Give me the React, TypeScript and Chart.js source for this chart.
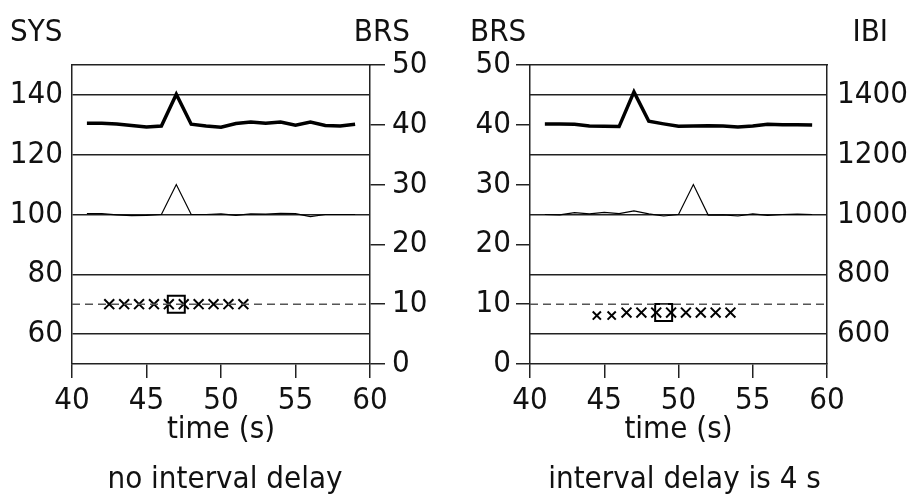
import React, { useEffect, useRef } from "react";
import { Chart, registerables } from "chart.js";

Chart.register(...registerables);

// ---------- data ----------
const times = [41, 42, 43, 44, 45, 46, 47, 48, 49, 50, 51, 52, 53, 54, 55, 56, 57, 58, 59];

// left panel (no interval delay), values on SYS axis
const leftThick = [130.5, 130.5, 130.3, 129.8, 129.3, 129.6, 140.2, 130.2, 129.6, 129.2, 130.4, 130.9, 130.5, 130.9, 129.9, 130.9, 129.8, 129.6, 130.2];
const leftThin = [100.3, 100.3, 99.9, 99.6, 99.7, 100.0, 110.0, 100.0, 100.0, 100.2, 99.7, 100.2, 100.1, 100.4, 100.3, 99.3, 100.0, 100.0, 100.0];
const leftCrossX = [42.5, 43.5, 44.5, 45.5, 46.5, 47.5, 48.5, 49.5, 50.5, 51.5];
const leftCrossY = [10, 10, 10, 10, 10, 10, 10, 10, 10, 10];
const leftSquare = { x: 47, y: 10 };

// right panel (interval delay is 4 s), values on IBI axis
const rightThick = [1303, 1303, 1302, 1296, 1295, 1294, 1410, 1312, 1303, 1295, 1296, 1297, 1296, 1293, 1296, 1302, 1300, 1300, 1299];
const rightThin = [1000, 999, 1006, 1002, 1007, 1003, 1012, 1002, 995, 1000, 1100, 998, 999, 995, 1002, 997, 1000, 1001, 1000];
const rightCrossX = [44.5, 45.5, 46.5, 47.5, 48.5, 49.5, 50.5, 51.5, 52.5, 53.5];
const rightCrossY = [8.1, 8.1, 8.6, 8.6, 8.6, 8.6, 8.6, 8.6, 8.6, 8.6];
const rightSquare = { x: 49, y: 8.6 };

const refBRS = 10;
const timeRange = [40, 60];
const sysTicks = [60, 80, 100, 120, 140];
const sysRange = [50, 150];
const brsRange = [0, 50];
const ibiTicks = [600, 800, 1000, 1200, 1400];
const ibiRange = [500, 1500];

const FAMILY = "'Liberation Sans Narrow', 'DejaVu Sans Condensed', 'DejaVu Sans', sans-serif";
const FONT_SIZE = 31;
const INK = "#111";
const GRID = "#222";

const W = 454;
const H = 498;

const textPlugin = {
  id: "panelText",
  afterDraw(chart: any, _args: any, opts: any) {
    const ctx = chart.ctx;
    const ca = chart.chartArea;
    ctx.save();
    ctx.fillStyle = INK;
    ctx.font = `${FONT_SIZE}px ${FAMILY}`;
    ctx.textBaseline = "alphabetic";
    ctx.textAlign = "left";
    ctx.fillText(opts.leftTitle, opts.leftTitleX, 41);
    ctx.textAlign = "right";
    ctx.fillText(opts.rightTitle, opts.rightTitleX, 41);
    ctx.textAlign = "center";
    const cx = (ca.left + ca.right) / 2;
    ctx.fillText(opts.xTitle, cx, 438);
    ctx.fillText(opts.caption, cx + opts.captionShift, 488);
    ctx.restore();
  },
};

const tickFont = { family: FAMILY, size: FONT_SIZE };
const plain = (v: any) => String(v);

function xScales(bottomH: number) {
  return {
    x: {
      type: "linear",
      position: "bottom",
      min: timeRange[0],
      max: timeRange[1],
      ticks: { stepSize: 5, font: tickFont, color: INK, padding: 4, maxRotation: 0, callback: plain },
      grid: { drawOnChartArea: false, drawTicks: true, tickLength: 14, color: GRID, lineWidth: 1.5 },
      border: { display: true, color: GRID, width: 1.5 },
      afterFit: (s: any) => {
        s.height = bottomH;
      },
    },
    xTop: {
      type: "linear",
      position: "top",
      min: timeRange[0],
      max: timeRange[1],
      ticks: { display: false },
      grid: { drawOnChartArea: false, drawTicks: false },
      border: { display: true, color: GRID, width: 1.5 },
      afterFit: (s: any) => {
        s.height = 0;
      },
    },
  };
}

function lineDs(data: number[], yAxisID: string, width: number) {
  return {
    data: times.map((t, i) => ({ x: t, y: data[i] })),
    yAxisID,
    xAxisID: "x",
    borderColor: "#000",
    borderWidth: width,
    pointRadius: 0,
    fill: false,
    tension: 0,
    borderJoinStyle: "miter",
  };
}

function markerDatasets(cx: number[], cy: number[], sq: { x: number; y: number }, yAxisID: string, smallFirst: number) {
  return [
    {
      data: [
        { x: timeRange[0], y: refBRS },
        { x: timeRange[1], y: refBRS },
      ],
      yAxisID,
      xAxisID: "x",
      borderColor: "#555",
      borderWidth: 1.5,
      borderDash: [8, 5],
      pointRadius: 0,
    },
    {
      data: cx.map((x, i) => ({ x, y: cy[i] })),
      yAxisID,
      xAxisID: "x",
      showLine: false,
      pointStyle: "crossRot",
      pointRadius: cx.map((_, i) => (i < smallFirst ? 5.8 : 7)),
      pointBorderWidth: 2,
      borderColor: "#000",
      pointBorderColor: "#000",
    },
    {
      data: [sq],
      yAxisID,
      xAxisID: "x",
      showLine: false,
      pointStyle: "rect",
      pointRadius: 12,
      pointBorderWidth: 2,
      pointBorderColor: "#000",
      pointBackgroundColor: "rgba(0,0,0,0)",
      borderColor: "#000",
    },
  ];
}

function makeLeftConfig(): any {
  return {
    type: "line",
    data: {
      datasets: [
        lineDs(leftThick, "ySys", 3.5),
        lineDs(leftThin, "ySys", 1.2),
        ...markerDatasets(leftCrossX, leftCrossY, leftSquare, "yBrs", 0),
      ],
    },
    options: {
      animation: false,
      responsive: false,
      devicePixelRatio: 1,
      layout: { padding: { top: 65, left: 0, right: 0, bottom: 0 } },
      plugins: {
        legend: { display: false },
        tooltip: { enabled: false },
        panelText: {
          leftTitle: "SYS",
          leftTitleX: 10,
          rightTitle: "BRS",
          rightTitleX: 410,
          xTitle: "time (s)",
          caption: "no interval delay",
          captionShift: 4,
        },
      },
      scales: {
        ...xScales(H - 364),
        ySys: {
          type: "linear",
          position: "left",
          min: sysRange[0],
          max: sysRange[1],
          afterBuildTicks: (s: any) => {
            s.ticks = sysTicks.map((v) => ({ value: v }));
          },
          ticks: { font: tickFont, color: INK, padding: 9, callback: plain },
          grid: { drawOnChartArea: true, drawTicks: false, color: GRID, lineWidth: 1.5 },
          border: { display: true, color: GRID, width: 1.5 },
          afterFit: (s: any) => {
            s.width = 72;
          },
        },
        yBrs: {
          type: "linear",
          position: "right",
          min: brsRange[0],
          max: brsRange[1],
          ticks: { stepSize: 10, font: tickFont, color: INK, padding: 7, callback: plain },
          grid: { drawOnChartArea: false, drawTicks: true, tickLength: 15, color: GRID, lineWidth: 1.5 },
          border: { display: true, color: GRID, width: 1.5 },
          afterFit: (s: any) => {
            s.width = W - 370;
          },
        },
      },
    },
    plugins: [textPlugin],
  };
}

function makeRightConfig(): any {
  return {
    type: "line",
    data: {
      datasets: [
        lineDs(rightThick, "yIbi", 3.5),
        lineDs(rightThin, "yIbi", 1.2),
        ...markerDatasets(rightCrossX, rightCrossY, rightSquare, "yBrs", 2),
      ],
    },
    options: {
      animation: false,
      responsive: false,
      devicePixelRatio: 1,
      layout: { padding: { top: 65, left: 0, right: 0, bottom: 0 } },
      plugins: {
        legend: { display: false },
        tooltip: { enabled: false },
        panelText: {
          leftTitle: "BRS",
          leftTitleX: 16,
          rightTitle: "IBI",
          rightTitleX: 434,
          xTitle: "time (s)",
          caption: "interval delay is 4 s",
          captionShift: 6,
        },
      },
      scales: {
        ...xScales(H - 364),
        yBrs: {
          type: "linear",
          position: "left",
          min: brsRange[0],
          max: brsRange[1],
          ticks: { stepSize: 10, font: tickFont, color: INK, padding: 5, callback: plain },
          grid: { drawOnChartArea: false, drawTicks: true, tickLength: 14, color: GRID, lineWidth: 1.5 },
          border: { display: true, color: GRID, width: 1.5 },
          afterFit: (s: any) => {
            s.width = 530 - W;
          },
        },
        yIbi: {
          type: "linear",
          position: "right",
          min: ibiRange[0],
          max: ibiRange[1],
          afterBuildTicks: (s: any) => {
            s.ticks = ibiTicks.map((v) => ({ value: v }));
          },
          ticks: { font: tickFont, color: INK, padding: 10, callback: plain },
          grid: { drawOnChartArea: true, drawTicks: false, color: GRID, lineWidth: 1.5 },
          border: { display: true, color: GRID, width: 1.5 },
          afterFit: (s: any) => {
            s.width = 2 * W - 827;
          },
        },
      },
    },
    plugins: [textPlugin],
  };
}

function Panel({ left, makeConfig }: { left: number; makeConfig: () => any }) {
  const ref = useRef<HTMLCanvasElement | null>(null);
  useEffect(() => {
    if (!ref.current) return;
    const chart = new Chart(ref.current, makeConfig());
    return () => chart.destroy();
  }, []);
  return (
    <canvas
      ref={ref}
      width={W}
      height={H}
      style={{ position: "absolute", left, top: 0, width: W, height: H }}
    />
  );
}

export default function App() {
  return (
    <div style={{ position: "fixed", left: 0, top: 0, width: 908, height: 498, background: "#fff" }}>
      <Panel left={0} makeConfig={makeLeftConfig} />
      <Panel left={W} makeConfig={makeRightConfig} />
    </div>
  );
}
